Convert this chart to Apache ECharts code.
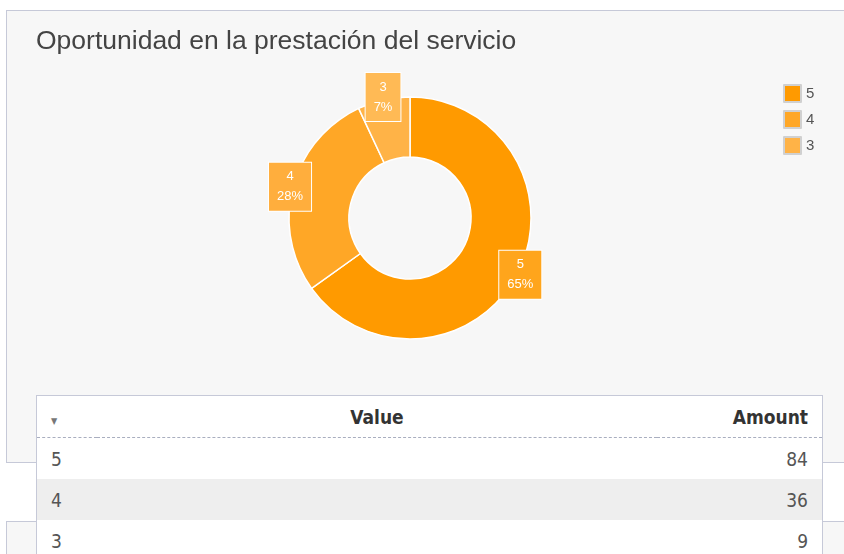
<!DOCTYPE html>
<html>
<head>
<meta charset="utf-8">
<script src="https://cdn.jsdelivr.net/npm/echarts@6/dist/echarts.min.js"></script>
<style>
  html, body { margin:0; padding:0; background:#ffffff; width:844px; height:554px; overflow:hidden; }
  #panel1 { position:absolute; left:6px; top:10px; width:900px; height:453px; background:#f7f7f7; border:1px solid #c6c9d8; box-sizing:border-box; }
  #panel2 { position:absolute; left:6px; top:521px; width:900px; height:60px; background:#f7f7f7; border:1px solid #c6c9d8; box-sizing:border-box; }
  #chart { position:absolute; left:0; top:0; width:844px; height:554px; }
  #tbl { position:absolute; left:36px; top:395px; width:787px; background:#fff; border:1px solid #c6c9d8; box-sizing:border-box;
         font-family:"Liberation Sans Narrow","Arial Narrow","DejaVu Sans Condensed",sans-serif; font-size:19px; color:#555; }
  #tbl table { width:100%; border-collapse:collapse; table-layout:fixed; }
  #tbl th { height:41px; font-weight:600; color:#333; border-bottom:1px dashed #a9aebf; padding:0 14px; }
  #tbl td { height:41px; padding:0 14px; }
  #tbl tr.alt td { background:#eeeeee; }
  .arrow { font-size:9px; color:#777; font-weight:normal; }
</style>
</head>
<body>
<div id="panel1"></div>
<div id="panel2"></div>
<div id="chart"></div>
<div id="tbl"></div>
<script>
const titleText = 'Oportunidad en la prestación del servicio';
const categories = ['5', '4', '3'];
const amounts = [84, 36, 9];
const sliceColors = ['#ff9a00', '#ffa726', '#ffb347'];
const labelColors = ['#ffa51c', '#ffae3d', '#ffba55'];
const tableHeaders = ['Value', 'Amount'];

// table built from the data arrays
(function(){
  let html = '<table><colgroup><col style="width:60px"><col style="width:560px"><col></colgroup>' +
    '<tr><th style="text-align:left"><span class="arrow">&#9660;</span></th><th style="text-align:center">' + tableHeaders[0] + '</th><th style="text-align:right">' + tableHeaders[1] + '</th></tr>';
  categories.forEach((c, i) => {
    html += '<tr' + (i % 2 === 1 ? ' class="alt"' : '') + '><td>' + c + '</td><td></td><td style="text-align:right">' + amounts[i] + '</td></tr>';
  });
  html += '</table>';
  document.getElementById('tbl').innerHTML = html;
})();

const chart = echarts.init(document.getElementById('chart'), null, {renderer:'canvas'});
const pieData = categories.map((c, i) => ({ name: c, value: amounts[i], itemStyle: { color: sliceColors[i] } }));
const labelData = categories.map((c, i) => ({ name: c, value: amounts[i], label: { backgroundColor: labelColors[i] } }));

chart.setOption({
  backgroundColor: 'transparent',
  animation: false,
  title: {
    text: titleText, left: 36, top: 28, padding: 0,
    textStyle: { fontFamily: 'Liberation Sans, Arial, sans-serif', fontSize: 26.5, fontWeight: 'normal', color: '#444' }
  },
  legend: {
    orient: 'vertical', left: 778, top: 79, itemWidth: 17, itemHeight: 17, itemGap: 7,
    icon: 'rect',
    itemStyle: { borderColor: '#d0d0d0', borderWidth: 2 },
    textStyle: { fontFamily: 'Liberation Sans, Arial, sans-serif', fontSize: 15, color: '#555' },
    data: categories
  },
  series: [
    {
      type: 'pie', center: [410, 218], radius: [61, 121], startAngle: 90, clockwise: true,
      itemStyle: { borderColor: '#ffffff', borderWidth: 1.5 },
      label: { show: false }, labelLine: { show: false },
      emphasis: { disabled: true },
      data: pieData
    },
    {
      type: 'pie', center: [410, 218], radius: [119, 123], startAngle: 90, clockwise: true,
      silent: true,
      itemStyle: { color: 'rgba(0,0,0,0)', borderWidth: 0 },
      labelLine: { show: false },
      label: {
        show: true, position: 'inside', color: '#ffffff', fontFamily: 'Liberation Sans, Arial, sans-serif', fontSize: 13,
        lineHeight: 20, padding: [4, 8], borderColor: '#ffffff', borderWidth: 1,
        formatter: p => p.name + '\n' + Math.round(p.percent) + '%'
      },
      emphasis: { disabled: true },
      data: labelData
    }
  ]
});
</script>
</body>
</html>
